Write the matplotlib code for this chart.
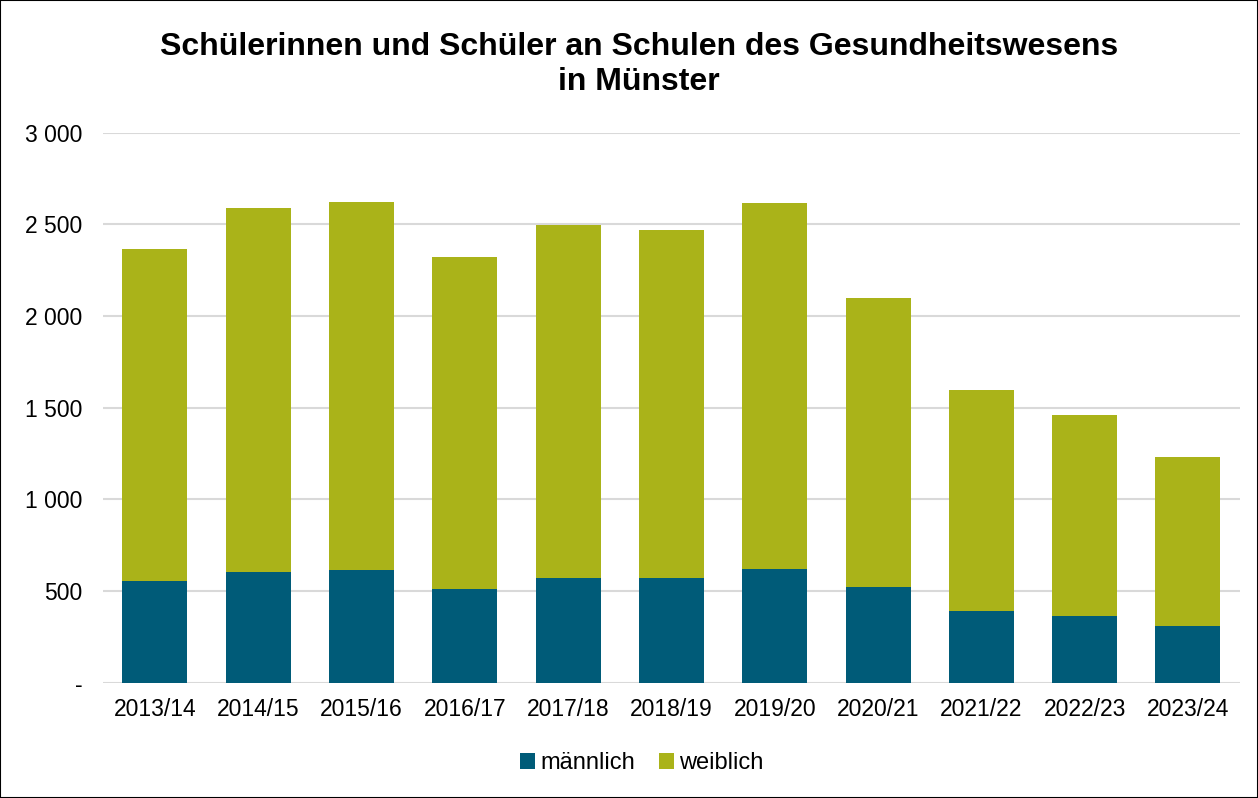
import matplotlib
matplotlib.use("Agg")
import matplotlib.pyplot as plt
from matplotlib.patches import Rectangle
from matplotlib.ticker import FuncFormatter

plt.rcParams['font.family'] = ['Liberation Sans', 'DejaVu Sans']

years = ["2013/14", "2014/15", "2015/16", "2016/17", "2017/18", "2018/19",
         "2019/20", "2020/21", "2021/22", "2022/23", "2023/24"]
maennlich = [555, 604, 614, 511, 572, 570, 622, 523, 393, 363, 311]
weiblich = [1813, 1984, 2008, 1813, 1925, 1898, 1993, 1576, 1204, 1096, 922]

c_m = "#005B78"
c_w = "#AAB319"

fig = plt.figure(figsize=(12.58, 7.98), dpi=100)
ax = fig.add_axes([103.3/1258, 1 - 682.8/798, (1239.6-103.3)/1258, (682.8-132.6)/798])

x = list(range(len(years)))
ax.bar(x, maennlich, width=0.63, color=c_m, label="männlich", zorder=3)
ax.bar(x, weiblich, width=0.63, bottom=maennlich, color=c_w, label="weiblich", zorder=3)

ax.set_xlim(-0.5, len(years) - 0.5)
ax.set_ylim(0, 3000)
ax.set_yticks(range(0, 3001, 500))
ax.yaxis.set_major_formatter(FuncFormatter(lambda v, p: "-" if v == 0 else f"{int(v):,}".replace(",", " ")))
ax.set_xticks(x)
ax.set_xticklabels(years)
ax.tick_params(axis='both', length=0, labelsize=16.5, colors="#000000")
ax.tick_params(axis='y', pad=15)
ax.tick_params(axis='x', pad=11)
ax.grid(axis='y', color="#D9D9D9", linewidth=1.5, zorder=0)
for s in ax.spines.values():
    s.set_visible(False)

fig.text(0.508, 1 - 64.5/798, "Schülerinnen und Schüler an Schulen des Gesundheitswesens\nin Münster",
         ha="center", va="center", fontsize=23, fontweight="bold", linespacing=1.18)

fig.legend(loc="center", bbox_to_anchor=(0.51, 1 - 763/798), ncol=2, frameon=False,
           fontsize=17, handlelength=0.65, handleheight=0.65, handletextpad=0.2,
           columnspacing=1.0)

fig.patches.append(Rectangle((0, 0), 1, 1, transform=fig.transFigure, fill=False,
                             edgecolor="#000000", linewidth=1.5))

fig.savefig("out.png", dpi=100)
